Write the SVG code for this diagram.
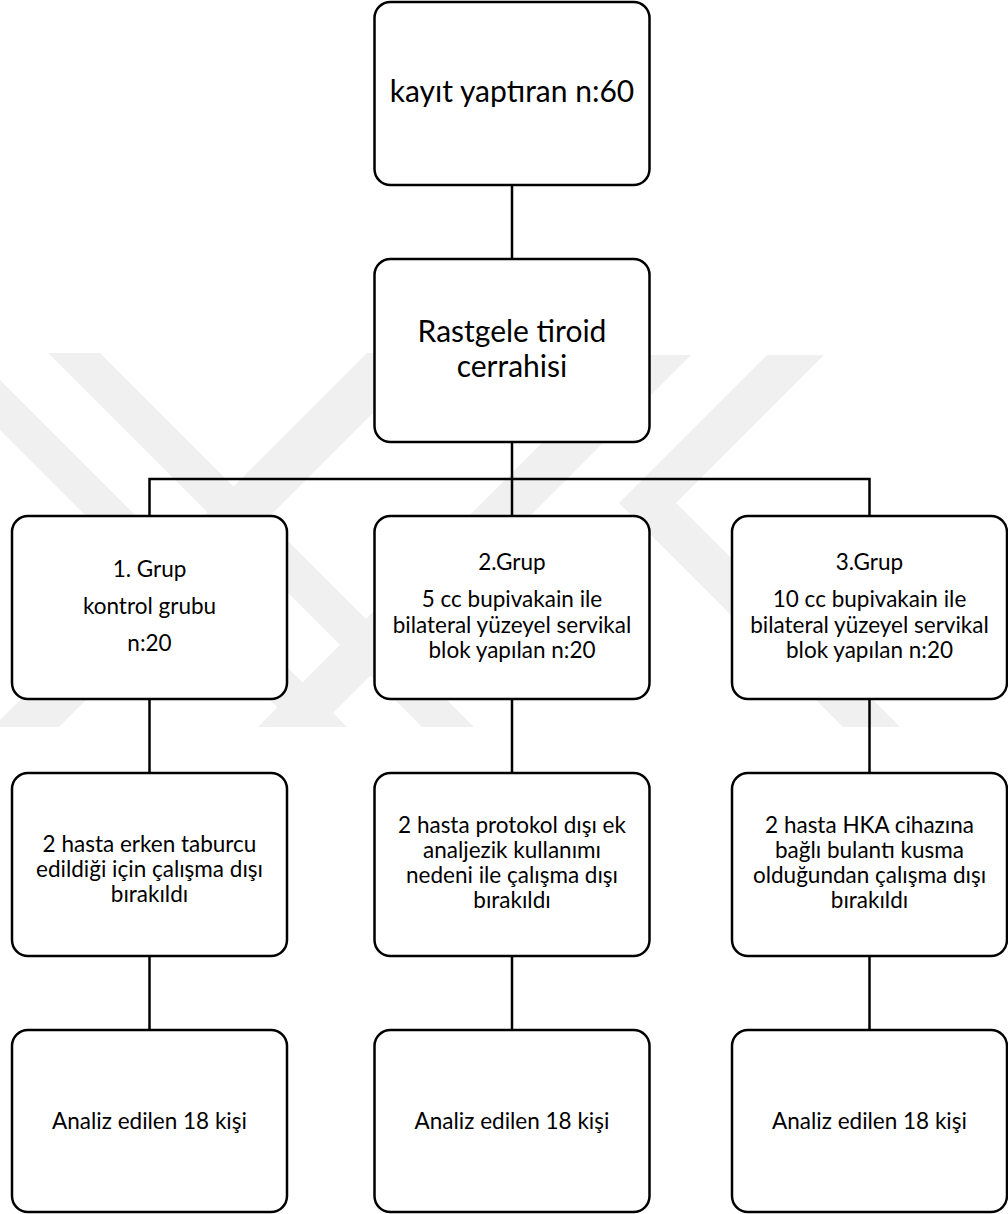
<svg xmlns="http://www.w3.org/2000/svg" width="1008" height="1214" viewBox="0 0 1008 1214">
<style>
  .box { fill: #ffffff; stroke: #000000; stroke-width: 2.5; }
  .wire { fill: none; stroke: #000000; stroke-width: 2.5; }
  .wm { fill: #f0f0f0; stroke: none; }
  text { font-family: Lato, "Liberation Sans", sans-serif; fill: #000000; text-anchor: middle; }
  .big { font-size: 30px; }
  .sm { font-size: 22.5px; }
</style>
<rect x="0" y="0" width="1008" height="1214" fill="#ffffff"/>
<g id="watermark">
  <polygon class="wm" points="48,353 100,353 474,727 422,727"/>
  <polygon class="wm" points="367,353 433,353 59,727 -7,727"/>
  <polygon class="wm" points="-77,353 -27,353 347,727 297,727"/>
  <polygon class="wm" points="630,355 691,355 319,727 258,727"/>
  <polygon class="wm" points="767,355 824,355 676,503 900,727 843,727 619,503"/>
</g>
<g id="connectors">
  <line class="wire" x1="512" y1="185" x2="512" y2="259"/>
  <polyline class="wire" points="512,442 512,479"/>
  <polyline class="wire" points="149.5,516 149.5,479 869.5,479 869.5,516"/>
  <line class="wire" x1="512" y1="479" x2="512" y2="516"/>
  <line class="wire" x1="149.5" y1="699" x2="149.5" y2="773"/>
  <line class="wire" x1="512" y1="699" x2="512" y2="773"/>
  <line class="wire" x1="869.5" y1="699" x2="869.5" y2="773"/>
  <line class="wire" x1="149.5" y1="956" x2="149.5" y2="1030"/>
  <line class="wire" x1="512" y1="956" x2="512" y2="1030"/>
  <line class="wire" x1="869.5" y1="956" x2="869.5" y2="1030"/>
</g>
<g id="n_kayit">
  <rect class="box" x="374.5" y="2" width="275" height="183" rx="16"/>
  <text class="big" x="512" y="102">kayıt yaptıran n:60</text>
</g>
<g id="n_rastgele">
  <rect class="box" x="374.5" y="259" width="275" height="183" rx="16"/>
  <text class="big" x="512" y="342">Rastgele tiroid</text>
  <text class="big" x="512" y="377">cerrahisi</text>
</g>
<g id="n_grup1">
  <rect class="box" x="12" y="516" width="275" height="183" rx="16"/>
  <text class="sm" x="149.5" y="577">1. Grup</text>
  <text class="sm" x="149.5" y="614">kontrol grubu</text>
  <text class="sm" x="149.5" y="651">n:20</text>
</g>
<g id="n_grup2">
  <rect class="box" x="374.5" y="516" width="275" height="183" rx="16"/>
  <text class="sm" x="512" y="570">2.Grup</text>
  <text class="sm" x="512" y="607">5 cc bupivakain ile</text>
  <text class="sm" x="512" y="633">bilateral yüzeyel servikal</text>
  <text class="sm" x="512" y="658">blok yapılan n:20</text>
</g>
<g id="n_grup3">
  <rect class="box" x="732" y="516" width="275" height="183" rx="16"/>
  <text class="sm" x="869.5" y="570">3.Grup</text>
  <text class="sm" x="869.5" y="607">10 cc bupivakain ile</text>
  <text class="sm" x="869.5" y="633">bilateral yüzeyel servikal</text>
  <text class="sm" x="869.5" y="658">blok yapılan n:20</text>
</g>
<g id="n_excl1">
  <rect class="box" x="12" y="773" width="275" height="183" rx="16"/>
  <text class="sm" x="149.5" y="852">2 hasta erken taburcu</text>
  <text class="sm" x="149.5" y="877">edildiği için çalışma dışı</text>
  <text class="sm" x="149.5" y="902">bırakıldı</text>
</g>
<g id="n_excl2">
  <rect class="box" x="374.5" y="773" width="275" height="183" rx="16"/>
  <text class="sm" x="512" y="833">2 hasta protokol dışı ek</text>
  <text class="sm" x="512" y="858">analjezik kullanımı</text>
  <text class="sm" x="512" y="883">nedeni ile çalışma dışı</text>
  <text class="sm" x="512" y="908">bırakıldı</text>
</g>
<g id="n_excl3">
  <rect class="box" x="732" y="773" width="275" height="183" rx="16"/>
  <text class="sm" x="869.5" y="833">2 hasta HKA cihazına</text>
  <text class="sm" x="869.5" y="858">bağlı bulantı kusma</text>
  <text class="sm" x="869.5" y="883">olduğundan çalışma dışı</text>
  <text class="sm" x="869.5" y="908">bırakıldı</text>
</g>
<g id="n_analiz1">
  <rect class="box" x="12" y="1030" width="275" height="182" rx="16"/>
  <text class="sm" x="149.5" y="1129">Analiz edilen 18 kişi</text>
</g>
<g id="n_analiz2">
  <rect class="box" x="374.5" y="1030" width="275" height="182" rx="16"/>
  <text class="sm" x="512" y="1129">Analiz edilen 18 kişi</text>
</g>
<g id="n_analiz3">
  <rect class="box" x="732" y="1030" width="275" height="182" rx="16"/>
  <text class="sm" x="869.5" y="1129">Analiz edilen 18 kişi</text>
</g>
</svg>
